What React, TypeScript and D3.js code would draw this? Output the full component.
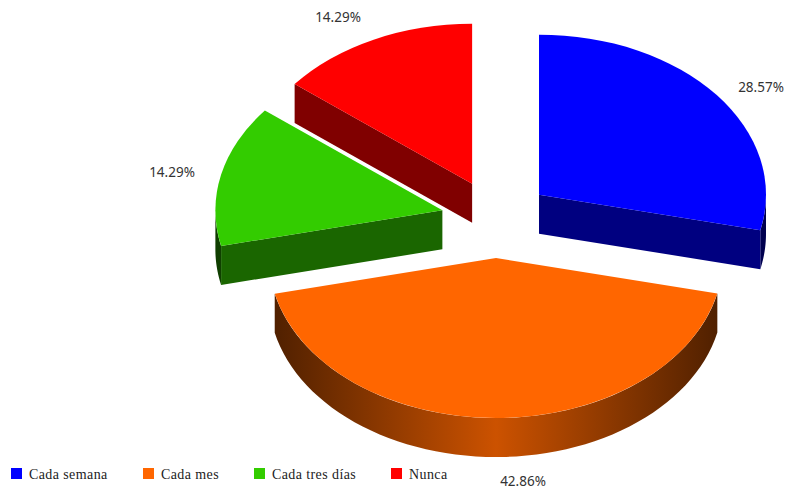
import React from "react";
import * as d3 from "d3";

const categories = ["Cada semana", "Cada mes", "Cada tres días", "Nunca"];
const shares = [28.57, 42.86, 14.29, 14.29];
const topColors = ["#0000ff", "#ff6600", "#33cc00", "#ff0000"];
const labelAnchors: [number, number][] = [[761, 92], [523, 486], [172, 177], [338, 22]];
const legendSwatchX = [11, 143, 254, 391];

const W = 785;
const H = 490;
const CX = 496;
const CY = 219;
const RX = 227;
const RY = 160;
const DEPTH = 39;
const EXPLODE = 55;
const EXPLODE_Y = 0.71;

const pie = d3.pie<number>().sort(null).value((d) => d);
const TAU = Math.PI * 2;

// Angles run clockwise from twelve o'clock; this projects one onto a slice's ellipse.
const rim = (a: number, ox: number, oy: number, drop = 0): [number, number] => [
  ox + RX * Math.sin(a),
  oy - RY * Math.cos(a) + drop,
];

const shade = (c: string, f: number) => {
  const k = d3.rgb(c);
  return d3.rgb(k.r * f, k.g * f, k.b * f).formatHex();
};

const linePath = d3.line();

export default function App() {
  const arcs = pie(shares);
  const topArc = d3.arc<d3.PieArcDatum<number>>().innerRadius(0).outerRadius(RX);

  return (
    <svg
      width={W}
      height={H}
      style={{ position: "absolute", left: 0, top: 0, background: "#fff" }}
    >
      <defs>
        {arcs.map((s, i) => {
          const mid = (s.startAngle + s.endAngle) / 2;
          const ox = CX + EXPLODE * Math.sin(mid);
          return (
            <linearGradient
              key={i}
              id={`wall-${i}`}
              gradientUnits="userSpaceOnUse"
              x1={ox - RX}
              x2={ox + RX}
              y1={0}
              y2={0}
            >
              <stop offset="0" stopColor={shade(topColors[i], 0.3)} />
              <stop offset="0.5" stopColor={shade(topColors[i], 0.8)} />
              <stop offset="1" stopColor={shade(topColors[i], 0.3)} />
            </linearGradient>
          );
        })}
      </defs>

      {arcs.map((s, i) => {
        const mid = (s.startAngle + s.endAngle) / 2;
        const ox = CX + EXPLODE * Math.sin(mid);
        const oy = CY - EXPLODE * EXPLODE_Y * Math.cos(mid);
        const color = topColors[i];

        // A cut face shows only when it turns toward the viewer.
        const cuts: number[] = [];
        if (s.startAngle > Math.PI && s.startAngle < TAU) cuts.push(s.startAngle);
        if (s.endAngle > 0 && s.endAngle < Math.PI) cuts.push(s.endAngle);

        // The outer wall is visible on the front half of the ellipse.
        const a0 = Math.max(s.startAngle, Math.PI / 2);
        const a1 = Math.min(s.endAngle, (3 * Math.PI) / 2);
        let wall: string | null = null;
        if (a1 > a0) {
          const steps = d3.range(0, 61).map((t) => a0 + ((a1 - a0) * t) / 60);
          const pts = [
            ...steps.map((a) => rim(a, ox, oy)),
            ...steps.slice().reverse().map((a) => rim(a, ox, oy, DEPTH)),
          ];
          wall = linePath(pts) + "Z";
        }

        return (
          <g key={i}>
            {wall && <path d={wall} fill={`url(#wall-${i})`} />}
            {cuts.map((a) => (
              <path
                key={a}
                fill={shade(color, 0.5)}
                d={
                  linePath([
                    [ox, oy],
                    rim(a, ox, oy),
                    rim(a, ox, oy, DEPTH),
                    [ox, oy + DEPTH],
                  ]) + "Z"
                }
              />
            ))}
            <path
              transform={`translate(${ox},${oy}) scale(1,${RY / RX})`}
              d={topArc(s) ?? ""}
              fill={color}
            />
          </g>
        );
      })}

      {shares.map((v, i) => (
        <text
          key={i}
          x={labelAnchors[i][0]}
          y={labelAnchors[i][1]}
          textAnchor="middle"
          fontFamily="'Noto Sans', sans-serif"
          fontSize={13.5}
          fill="#333"
        >
          {v.toFixed(2)}%
        </text>
      ))}

      {categories.map((c, i) => (
        <g key={c}>
          <rect x={legendSwatchX[i]} y={468} width={11} height={11} fill={topColors[i]} />
          <text
            x={legendSwatchX[i] + 18}
            y={479}
            fontFamily="'Liberation Serif', serif"
            fontSize={14}
            letterSpacing={0.4}
            fill="#222"
          >
            {c}
          </text>
        </g>
      ))}
    </svg>
  );
}
